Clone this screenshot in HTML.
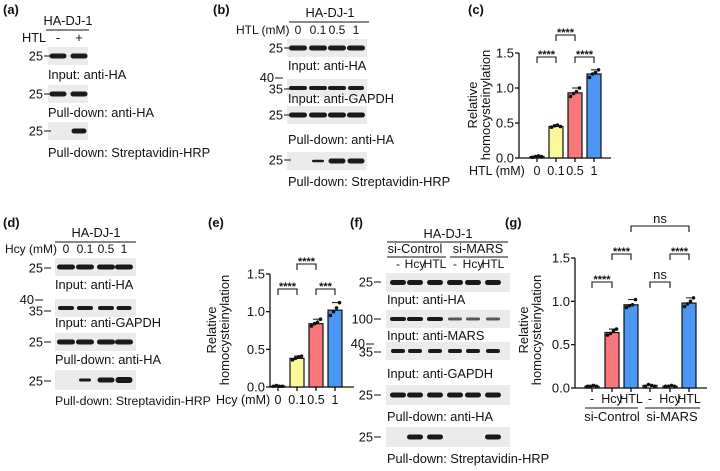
<!DOCTYPE html>
<html><head><meta charset="utf-8"><style>
body{margin:0;background:#fff;}
svg{display:block;font-family:"Liberation Sans",Arial,sans-serif;}
text{fill:#111;}
</style></head><body>
<svg id="fig" width="720" height="471" viewBox="0 0 720 471" xmlns="http://www.w3.org/2000/svg">
<g id="static" font-size="12.8"></g>
<g id="charts" font-size="13"></g>
</svg>
<script>
// ---- chart data ----
const cCategories = ["0","0.1","0.5","1"];
const cValues = [0.02, 0.45, 0.93, 1.2];
const cPoints = [[0.01,0.02,0.03,0.02],[0.44,0.46,0.47,0.45],[0.88,0.92,0.95,1.0],[1.15,1.2,1.22,1.26]];
const eCategories = ["0","0.1","0.5","1"];
const eValues = [0.01, 0.38, 0.84, 1.02];
const ePoints = [[0.01,0.02,0.01,0.01],[0.36,0.38,0.4,0.41],[0.81,0.84,0.86,0.9],[0.95,1.0,1.05,1.12]];
const gCategories = ["-","Hcy","HTL","-","Hcy","HTL"];
const gValues = [0.02, 0.64, 0.96, 0.03, 0.02, 0.98];
const gPoints = [[0.02,0.02,0.03,0.02],[0.61,0.63,0.66,0.68],[0.93,0.95,0.96,1.02],[0.02,0.04,0.03,0.02],[0.02,0.02,0.03,0.02],[0.94,0.97,1.0,1.04]];
const yTicks = [0.0, 0.5, 1.0, 1.5];
const tickLabels = ["0.0","0.5","1.0","1.5"];
const colors3 = ["#ffffff","#fbf99a","#f7777b","#4b97f3"];
const colorsG = ["#ffffff","#f7777b","#4b97f3","#ffffff","#ffffff","#4b97f3"];

const NS="http://www.w3.org/2000/svg";
function el(parent,tag,attrs,txt){const e=document.createElementNS(NS,tag);for(const k in attrs)e.setAttribute(k,attrs[k]);if(txt!==undefined)e.textContent=txt;parent.appendChild(e);return e;}
const S=document.getElementById('static');
const C=document.getElementById('charts');

function txt(x,y,s,name,anchor,size){const t=el(S,'text',{x:x,y:y,'text-anchor':anchor||'start'},s);
 
 
 if(size)t.setAttribute('font-size',size);return t;}
function line(x1,y1,x2,y2,name,w){const l=el(S,'line',{x1,y1,x2,y2,stroke:'#111','stroke-width':w||1});
 
 return l;}
function blot(x,y,w,h,lanes,bands,name){
 const g=el(S,'g',{});
 
 
 el(g,'rect',{x:x,y:y,width:w,height:h,fill:'#ebebeb'});
 lanes.forEach((lx,i)=>{const b=bands[i];if(!b)return;
  el(g,'rect',{x:lx-b[0]/2,y:y+h/2-b[1]/2,width:b[0],height:b[1],rx:b[1]/2,fill:'#1a1a1a',opacity:b[2]||1});});
}
function marker(x,y,lbl,name){txt(x,y+4.5,lbl,name,'end');line(x+1,y,x+8,y,name+'-tick');}
const LS=12;

// ---- panel a ----
txt(3,14,"(a)","panel-a-label",'start',13).setAttribute('font-weight','bold');
txt(68,25,"HA-DJ-1","a-header",'middle');line(46,30,89,30,"a-header-line");
txt(22,42,"HTL","a-htl-label");txt(58,42,"-","a-lane-minus",'middle');txt(79,42,"+","a-lane-plus",'middle');
const aL=[58,79];
blot(48,47,40,18,aL,[[17,5],[17,5]],"a-blot-input-ha");marker(43,56,"25","a-marker-1");
txt(48,79,"Input: anti-HA","a-label-1");
blot(48,85,40,18,aL,[[17,5],[17,5]],"a-blot-pulldown-ha");marker(43,94,"25","a-marker-2");
txt(48,117,"Pull-down: anti-HA","a-label-2");
blot(48,122,40,18,aL,[null,[15,5]],"a-blot-streptavidin");marker(43,131,"25","a-marker-3");
txt(48,157,"Pull-down: Streptavidin-HRP","a-label-3");

// ---- panel b ----
txt(213,14,"(b)","panel-b-label",'start',13).setAttribute('font-weight','bold');
txt(330,17,"HA-DJ-1","b-header",'middle');line(289,22,369,22,"b-header-line");
txt(236,34,"HTL (mM)","b-htl-label",'start',LS);
const bL=[298,318,337,356];
["0","0.1","0.5","1"].forEach((s,i)=>txt(bL[i],34,s,"b-lane-"+i,'middle',LS));
blot(287,39,80,18,bL,[[18,5],[18,5],[18,5],[18,5]],"b-blot-input-ha");marker(283,48,"25","b-marker-1");
txt(288,70,"Input: anti-HA","b-label-1");
txt(274,82,"40","b-marker-40",'end');line(275,78,283,78,"b-tick-40");
blot(287,79,80,18,bL,[[18,4],[18,4],[18,4],[16,4]],"b-blot-gapdh");marker(283,89,"35","b-marker-35");
txt(288,103,"Input: anti-GAPDH","b-label-2");
blot(287,106,80,18,bL,[[18,5],[18,5],[18,5],[18,5]],"b-blot-pulldown-ha");marker(283,115,"25","b-marker-3");
txt(288,144,"Pull-down: anti-HA","b-label-3");
blot(287,152,80,18,bL,[null,[12,2.5],[17,5],[17,5]],"b-blot-streptavidin");marker(283,160,"25","b-marker-4");
txt(288,186,"Pull-down: Streptavidin-HRP","b-label-4");

// ---- panel d ----
txt(3,227,"(d)","panel-d-label",'start',13).setAttribute('font-weight','bold');
txt(96,237,"HA-DJ-1","d-header",'middle');line(55,242,136,242,"d-header-line");
txt(5,253,"Hcy (mM)","d-hcy-label",'start',LS);
const dL=[66,85,106,124];
["0","0.1","0.5","1"].forEach((s,i)=>txt(dL[i],253,s,"d-lane-"+i,'middle',LS));
blot(55,258,81,18,dL,[[18,5],[18,5],[18,5],[18,5]],"d-blot-input-ha");marker(43,268,"25","d-marker-1");
txt(55,289,"Input: anti-HA","d-label-1");
txt(34,304,"40","d-marker-40",'end');line(35,300,43,300,"d-tick-40");
blot(55,299,81,18,dL,[[16,4],[16,4],[16,4],[15,4]],"d-blot-gapdh");marker(43,311,"35","d-marker-35");
txt(55,327,"Input: anti-GAPDH","d-label-2");
blot(55,333,81,18,dL,[[18,5],[18,5],[18,5],[18,5]],"d-blot-pulldown-ha");marker(43,342,"25","d-marker-3");
txt(55,364,"Pull-down: anti-HA","d-label-3");
blot(55,370,81,20,dL,[null,[12,3],[17,5],[17,6]],"d-blot-streptavidin");marker(43,381,"25","d-marker-4");
txt(55,405,"Pull-down: Streptavidin-HRP","d-label-4",'start',12.3);

// ---- panel f ----
txt(350,227,"(f)","panel-f-label",'start',13).setAttribute('font-weight','bold');
txt(448,238,"HA-DJ-1","f-header",'middle');line(387,242,508,242,"f-header-line");
txt(415,253,"si-Control","f-si-control",'middle');line(387,257,446,257,"f-control-line");
txt(478,253,"si-MARS","f-si-mars",'middle');line(450,257,508,257,"f-mars-line");
const fL=[398,415,435,455,473,493];
["-","Hcy","HTL","-","Hcy","HTL"].forEach((s,i)=>txt(fL[i],268,s,"f-lane-"+i,'middle',LS));
const full=[16,5];
blot(386,273,124,19,fL,[full,full,full,full,full,full],"f-blot-input-ha");marker(373,282,"25","f-marker-1");
txt(387,304,"Input: anti-HA","f-label-1");
blot(386,310,124,18,fL,[[16,4],[16,4],[16,4],[14,3,0.7],[14,3,0.7],[14,3,0.7]],"f-blot-mars");marker(373,319,"100","f-marker-2");
txt(387,340,"Input: anti-MARS","f-label-2");
txt(365,348,"40","f-marker-40",'end');line(366,344,374,344,"f-tick-40");
blot(386,342,124,18,fL,[[14,4],[14,4],[14,4],[14,4],[14,4],[14,4]],"f-blot-gapdh");marker(373,352,"35","f-marker-35");
txt(387,378,"Input: anti-GAPDH","f-label-3");
blot(386,385,124,20,fL,[full,full,full,full,full,full],"f-blot-pulldown-ha");marker(373,395,"25","f-marker-4");
txt(387,421,"Pull-down: anti-HA","f-label-4");
blot(386,427,124,20,fL,[null,[16,5],[16,5],null,null,[16,5]],"f-blot-streptavidin");marker(373,437,"25","f-marker-5");
txt(387,463,"Pull-down: Streptavidin-HRP","f-label-5");

txt(468,14,"(c)","panel-c-label",'start',13).setAttribute('font-weight','bold');
txt(208,227,"(e)","panel-e-label",'start',13).setAttribute('font-weight','bold');
txt(505,227,"(g)","panel-g-label",'start',13).setAttribute('font-weight','bold');

// ---- bar chart builder ----
function barChart(p){
 const g=el(C,'g',{});
 
 
 const y=v=>p.y0-(v/1.5)*(p.y0-p.y15);
 const x=i=>p.xs[i];
 const ya=el(g,'line',{x1:p.ax,y1:p.y15,x2:p.ax,y2:p.y0,stroke:'#111','stroke-width':1.3});
 
 
 const xa=el(g,'line',{x1:p.ax,y1:p.y0,x2:p.xend,y2:p.y0,stroke:'#111','stroke-width':1.3});
 
 
 yTicks.forEach((t,i)=>{
  const ty=y(t);
  el(g,'line',{x1:p.ax-4,y1:ty,x2:p.ax,y2:ty,stroke:'#111','stroke-width':1.3});
  const tl=el(g,'text',{x:p.ax-5,y:ty+4.5,'text-anchor':'end','font-size':13},tickLabels[i]);
  
  
 });
 p.values.forEach((v,i)=>{
  const cx=x(i);
  el(g,'line',{x1:cx,y1:p.y0,x2:cx,y2:p.y0+4,stroke:'#111','stroke-width':1.3});
  const top=y(v);
  const b=el(g,'rect',{x:cx-p.bw/2,y:top,width:p.bw,height:Math.max(p.y0-top,0.5),fill:p.colors[i],stroke:'#111','stroke-width':1.2});
  
  
  p.points[i].forEach((pv,j)=>{
   const d=el(g,'circle',{cx:cx-4.5+j*3,cy:y(pv),r:1.8,fill:'#111'});
   
   
  });
  el(g,'line',{x1:cx-3,y1:y(Math.max(...p.points[i])),x2:cx+3,y2:y(Math.max(...p.points[i])),stroke:'#111','stroke-width':1});
  const cl=el(g,'text',{x:cx,y:p.y0+p.labelDy,'text-anchor':'middle','font-size':12.5},p.cats[i]);
  
  
 });
 p.brackets.forEach(br=>{
  const x1=x(br[0]),x2=x(br[1]),by=br[2];
  const pl=el(g,'polyline',{points:`${x1},${by+6} ${x1},${by} ${x2},${by} ${x2},${by+6}`,fill:'none',stroke:'#111','stroke-width':1.1});
  
  
  const st=el(g,'text',{x:(x1+x2)/2,y:br[3]==='ns'?by-3:by+1,'text-anchor':'middle','font-size':br[3]==='ns'?13:11,'font-weight':br[3]==='ns'?'normal':'bold'},br[3]);
  
  
 });
 const yl=el(g,'text',{transform:`translate(${p.ylx},${p.ylc}) rotate(-90)`,'text-anchor':'middle','font-size':13},"Relative");
 
 
 const yl2=el(g,'text',{transform:`translate(${p.ylx+13},${p.ylc}) rotate(-90)`,'text-anchor':'middle','font-size':13},"homocysteinylation");
 
 
 return g;
}

const cg=barChart({name:'chart-c',ax:519,y0:158,y15:53,xend:611,xs:[537,556,575,594],bw:14,values:cValues,points:cPoints,colors:colors3,cats:cCategories,labelDy:17,
 brackets:[[0,1,57,'****'],[1,2,35,'****'],[2,3,57,'****']],ylx:477,ylc:105});
const ct=el(cg,'text',{x:469,y:175,'font-size':12.5},"HTL (mM)");



const eg=barChart({name:'chart-e',ax:270,y0:387,y15:274,xend:354,xs:[278,297,316,335],bw:14,values:eValues,points:ePoints,colors:colors3,cats:eCategories,labelDy:17,
 brackets:[[0,1,289,'****'],[1,2,264,'****'],[2,3,289,'***']],ylx:216,ylc:330});
const et=el(eg,'text',{x:216,y:404,'font-size':12.5},"Hcy (mM)");



const gg=barChart({name:'chart-g',ax:575,y0:388,y15:258,xend:707,xs:[592,612,631,650,670,689],bw:14,values:gValues,points:gPoints,colors:colorsG,cats:gCategories,labelDy:15,
 brackets:[[0,1,282,'****'],[1,2,254,'****'],[3,4,282,'ns'],[4,5,254,'****'],[2,5,226,'ns']],ylx:528,ylc:330});
[[585,638,612,"si-Control"],[645,700,672,"si-MARS"]].forEach(a=>{
 const l=el(gg,'line',{x1:a[0],y1:408,x2:a[1],y2:408,stroke:'#111','stroke-width':1});
 
 
 const t=el(gg,'text',{x:a[2],y:421,'text-anchor':'middle','font-size':13},a[3]);
 
 
});
</script>
</body></html>
